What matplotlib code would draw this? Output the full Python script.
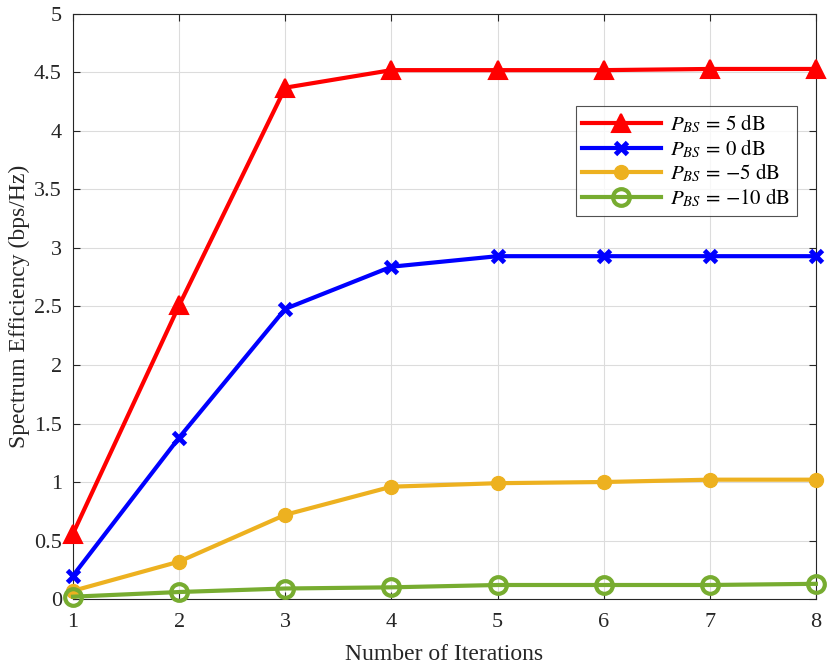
import matplotlib
matplotlib.use("Agg")
import matplotlib.pyplot as plt

iterations = [1, 2, 3, 4, 5, 6, 7, 8]
se_5db = [0.56, 2.51, 4.37, 4.52, 4.52, 4.52, 4.53, 4.53]
se_0db = [0.20, 1.38, 2.48, 2.84, 2.93, 2.93, 2.93, 2.93]
se_m5db = [0.07, 0.32, 0.72, 0.96, 0.99, 1.00, 1.02, 1.02]
se_m10db = [0.02, 0.06, 0.09, 0.10, 0.12, 0.12, 0.12, 0.13]
labels = [r'$P_{BS}\,=\,5\ \mathrm{dB}$', r'$P_{BS}\,=\,0\ \mathrm{dB}$',
          r'$P_{BS}\,=\,{-5}\ \mathrm{dB}$', r'$P_{BS}\,=\,{-10}\ \mathrm{dB}$']
yticks = [0, 0.5, 1, 1.5, 2, 2.5, 3, 3.5, 4, 4.5, 5]
yticklabels = ['0', '0.5', '1', '1.5', '2', '2.5', '3', '3.5', '4', '4.5', '5']

plt.rcParams['font.family'] = ['Liberation Serif', 'DejaVu Serif']
plt.rcParams['mathtext.fontset'] = 'stix'

fig = plt.figure(figsize=(8.3, 6.65), dpi=100)
ax = fig.add_axes([0.088, 0.0992, 0.895, 0.8798])

ax.plot(iterations, se_5db, color='#ff0000', lw=3, marker='^', ms=13,
        mfc='#ff0000', mec='#ff0000', mew=1.5, label=labels[0], zorder=4, clip_on=False)
ax.plot(iterations, se_0db, color='#0000ff', lw=3, marker='x', ms=8,
        mew=3.5, label=labels[1], zorder=4, clip_on=False)
ax.plot(iterations, se_m5db, color='#edb120', lw=3, marker='o', ms=10,
        mfc='#edb120', mec='#edb120', label=labels[2], zorder=4, clip_on=False)
ax.plot(iterations, se_m10db, color='#77ac30', lw=3, marker='o', ms=12,
        mfc='none', mec='#77ac30', mew=3, label=labels[3], zorder=4, clip_on=False)

ax.set_xlim(1, 8)
ax.set_ylim(0, 5)
ax.set_xticks(iterations)
ax.set_yticks(yticks)
ax.set_yticklabels(yticklabels)
ax.tick_params(direction='in', top=True, right=True, labelsize=16,
               length=5, width=0.8, colors='#262626')
ax.tick_params(axis='x', pad=10)
ax.tick_params(axis='y', pad=8)
ax.grid(True, color='#dcdcdc', lw=0.8)
ax.set_axisbelow(True)
for s in ax.spines.values():
    s.set_color('#262626')
    s.set_linewidth(0.8)

ax.set_xlabel('Number of Iterations', fontsize=17, color='#262626', labelpad=9)
ax.set_ylabel('Spectrum Efficiency (bps/Hz)', fontsize=17, color='#262626', labelpad=3)

leg = ax.legend(loc='upper right', bbox_to_anchor=(0.9745, 0.8425), fontsize=15,
                frameon=True, fancybox=False, edgecolor='#262626',
                handlelength=3.8, borderpad=0.3, labelspacing=0.1,
                handletextpad=0.45, borderaxespad=0)
leg.get_frame().set_linewidth(0.8)

fig.savefig('out.png', dpi=100)
